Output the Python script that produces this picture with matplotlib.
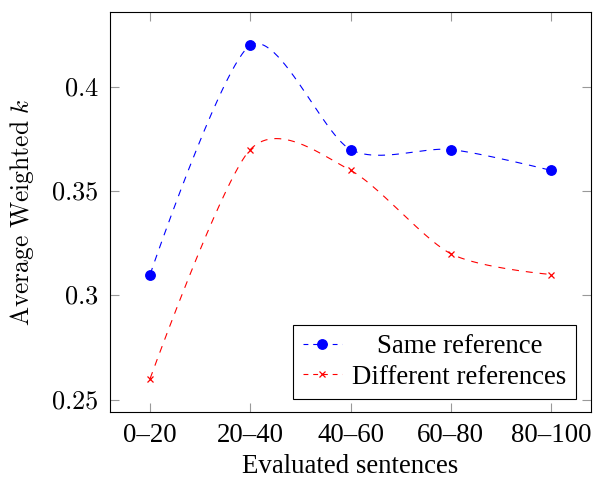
import numpy as np
import matplotlib
matplotlib.use('Agg')
import matplotlib.pyplot as plt
from matplotlib.lines import Line2D
from matplotlib.transforms import Affine2D

categories = ['0–20', '20–40', '40–60', '60–80', '80–100']
same_ref = [0.31, 0.42, 0.37, 0.37, 0.36]
diff_ref = [0.26, 0.37, 0.36, 0.32, 0.31]
yticks = [0.25, 0.3, 0.35, 0.4]
ytick_labels = ['$0.25$', '$0.3$', '$0.35$', '$0.4$']
series_labels = ['Same reference', 'Different references']

plt.rcParams['font.family'] = ['Liberation Serif', 'DejaVu Serif']
plt.rcParams['mathtext.fontset'] = 'cm'
plt.rcParams['lines.scale_dashes'] = False
FS = 19.4

fig = plt.figure(figsize=(5.93, 4.79), dpi=100)
ax = fig.add_axes([110/593, 67/479, 481/593, 400/479])
x = np.arange(len(categories))
ax.set_xlim(-0.4, 4.4)
ax.set_ylim(0.244, 0.436)


def smooth(ax, xs, ys, tension=0.1375, n=60):
    P = ax.transData.transform(np.column_stack([xs, ys]))
    out = [P[0:1]]
    m = len(P)
    t = np.linspace(0, 1, n)[1:, None]
    for i in range(m - 1):
        p0, p3 = P[i], P[i + 1]
        c1 = p0 if i == 0 else p0 + tension * (P[i + 1] - P[i - 1])
        c2 = p3 if i == m - 2 else p3 - tension * (P[i + 2] - P[i])
        B = (1 - t)**3 * p0 + 3 * (1 - t)**2 * t * c1 + 3 * (1 - t) * t**2 * c2 + t**3 * p3
        out.append(B)
    pts = np.vstack(out)
    d = ax.transData.inverted().transform(pts)
    return d[:, 0], d[:, 1]


dash = (0, (5, 5))
blue = '#0000ff'
red = '#ff0000'

sx, sy = smooth(ax, x, same_ref)
ax.plot(sx, sy, color=blue, lw=0.8, linestyle=dash)
ax.plot(x, same_ref, linestyle='none', marker='o', ms=6.8, color=blue, zorder=3)

dx, dy = smooth(ax, x, diff_ref)
ax.plot(dx, dy, color=red, lw=0.8, linestyle=dash)
ax.plot(x, diff_ref, linestyle='none', marker='x', ms=5, mew=0.9, color=red, zorder=3)

ax.set_xticks(x)
ax.set_xticklabels(categories, fontsize=FS)
ax.set_yticks(yticks)
ax.set_yticklabels(ytick_labels, fontsize=19)
ax.tick_params(axis='both', which='both', direction='in', length=6.5, width=0.8,
               color='#999999', top=True, right=True)
ax.tick_params(axis='y', pad=8)
ax.tick_params(axis='x', pad=8)
for s in ax.spines.values():
    s.set_linewidth(0.8)
    s.set_color('black')

ax.set_xlabel('Evaluated sentences', fontsize=FS, labelpad=4)
ax.set_ylabel(r'$\mathrm{Average\ Weighted}\ k$', fontsize=18.4, labelpad=11)

handles = [
    Line2D([], [], color=blue, lw=0.8, linestyle=(0, (3.5, 3.5)), marker='o', ms=6.8),
    Line2D([], [], color=red, lw=0.8, linestyle=(0, (3.5, 3.5)), marker='x', ms=4.5, mew=0.9),
]
leg = ax.legend(handles, series_labels, loc='lower right', bbox_to_anchor=(0.969, 0.0325),
                fontsize=FS, frameon=True, fancybox=False, framealpha=1, edgecolor='black',
                borderpad=0.35, labelspacing=0.2, handlelength=1.45, handletextpad=0.4,
                borderaxespad=0, numpoints=1)
leg.get_frame().set_linewidth(0.8)

fig.canvas.draw()
r = fig.canvas.get_renderer()
widths = [t.get_window_extent(r).width for t in leg.get_texts()]
wmax = max(widths)
for t, w in zip(leg.get_texts(), widths):
    t.set_transform(Affine2D().translate((wmax - w) / 2, 0) + t.get_transform())

fig.savefig('out.png', dpi=100)
